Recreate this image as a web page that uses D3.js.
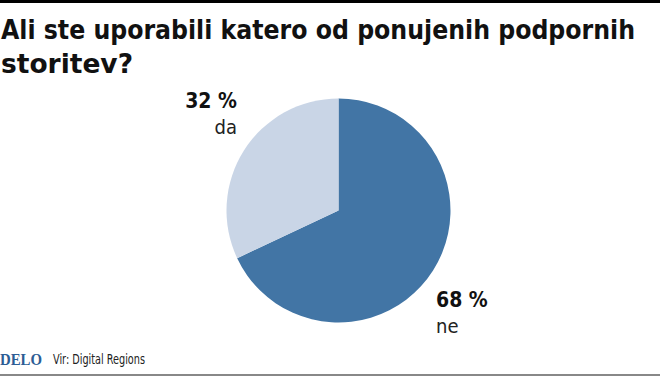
<!DOCTYPE html>
<html>
<head>
<meta charset="utf-8">
<script src="https://cdn.jsdelivr.net/npm/d3@7"></script>
<style>
  body { margin: 0; background: #fff; }
  text { font-family: "DejaVu Sans Condensed", "DejaVu Sans", sans-serif; }
</style>
</head>
<body>
<div id="chart"></div>
<script>
// Data
const categories = ["ne", "da"];
const values = [68, 32];
const colors = ["#4275a5", "#c9d5e6"];
const title = ["Ali ste uporabili katero od ponujenih podpornih", "storitev?"];
const source = "Vir: Digital Regions";

const width = 660, height = 376;

const svg = d3.select("#chart")
    .append("svg")
    .attr("width", width)
    .attr("height", height);

// top rule
svg.append("rect")
    .attr("x", 0).attr("y", 0)
    .attr("width", width).attr("height", 3)
    .attr("fill", "#000");

// Title
svg.selectAll(".title")
    .data(title)
    .enter().append("text")
    .attr("class", "title")
    .attr("x", 1)
    .attr("y", (d, i) => 39 + i * 34)
    .style("font-size", "26px")
    .style("font-weight", "bold")
    .style("fill", "#111")
    .text(d => d);
// stretch lines to reference width
svg.select(".title")
    .attr("textLength", 634)
    .attr("lengthAdjust", "spacingAndGlyphs");
svg.selectAll(".title").filter((d, i) => i === 1)
    .attr("textLength", 132)
    .attr("lengthAdjust", "spacingAndGlyphs");

// Pie
const cx = 338.5, cy = 210.5, r = 112;
const pie = d3.pie().sort(null).value(d => d.value);
const arc = d3.arc().innerRadius(0).outerRadius(r);
const pieData = pie(categories.map((c, i) => ({cat: c, value: values[i], color: colors[i]})));

const g = svg.append("g").attr("transform", `translate(${cx},${cy})`);
g.selectAll("path")
    .data(pieData)
    .enter().append("path")
    .attr("d", arc)
    .attr("fill", d => d.data.color);

// Labels
const labelPos = {
    ne: {x: 436, y: 307, anchor: "start"},
    da: {x: 237, y: 108, anchor: "end"}
};
pieData.forEach(d => {
    const p = labelPos[d.data.cat];
    svg.append("text")
        .attr("x", p.x).attr("y", p.y)
        .attr("text-anchor", p.anchor)
        .style("font-size", "21px")
        .style("font-weight", "bold")
        .style("fill", "#111")
        .text(d.data.value + " %");
    svg.append("text")
        .attr("x", p.x).attr("y", p.y + 26)
        .attr("text-anchor", p.anchor)
        .style("font-size", "20px")
        .style("fill", "#222")
        .text(d.data.cat);
});

// Footer
svg.append("text")
    .attr("x", 0).attr("y", 365)
    .style("font-family", "'Liberation Serif', serif")
    .style("font-size", "17px")
    .style("font-weight", "bold")
    .style("fill", "#2d5d94")
    .attr("textLength", 42)
    .attr("lengthAdjust", "spacingAndGlyphs")
    .text("DELO");
svg.append("text")
    .attr("x", 53).attr("y", 364)
    .style("font-size", "14px")
    .style("fill", "#222")
    .attr("textLength", 92)
    .attr("lengthAdjust", "spacingAndGlyphs")
    .text(source);

svg.append("rect")
    .attr("x", 0).attr("y", 374)
    .attr("width", width).attr("height", 2)
    .attr("fill", "#888");
</script>
</body>
</html>
